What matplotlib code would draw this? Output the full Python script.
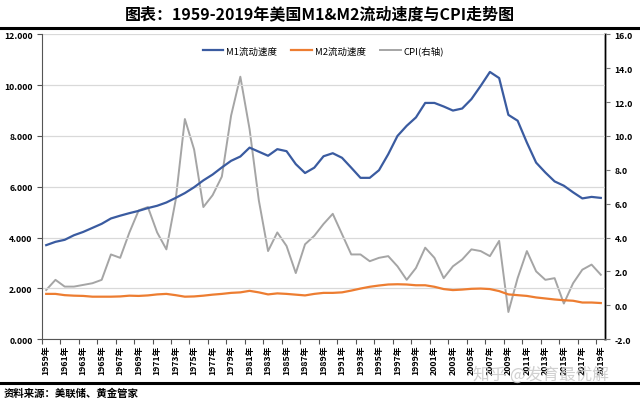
import matplotlib
matplotlib.use("Agg")
import matplotlib.pyplot as plt
from matplotlib.lines import Line2D
import numpy as np

plt.rcParams['font.family'] = ['Noto Sans CJK SC', 'DejaVu Sans']

years = list(range(1959, 2020))
m1_velocity = [3.70, 3.83, 3.91, 4.09, 4.22, 4.38, 4.54, 4.75, 4.86, 4.96,
               5.05, 5.16, 5.25, 5.38, 5.56, 5.75, 5.98, 6.25, 6.48, 6.76,
               7.02, 7.19, 7.54, 7.38, 7.22, 7.48, 7.40, 6.89, 6.54, 6.75,
               7.20, 7.32, 7.14, 6.75, 6.35, 6.35, 6.65, 7.28, 8.00, 8.40,
               8.73, 9.30, 9.30, 9.16, 9.00, 9.08, 9.45, 9.97, 10.52, 10.28,
               8.83, 8.60, 7.74, 6.95, 6.56, 6.21, 6.04, 5.78, 5.54, 5.60, 5.56]
m2_velocity = [1.78, 1.78, 1.73, 1.71, 1.70, 1.67, 1.67, 1.67, 1.68, 1.71,
               1.70, 1.72, 1.76, 1.78, 1.73, 1.67, 1.68, 1.71, 1.75, 1.78,
               1.82, 1.84, 1.90, 1.84, 1.76, 1.80, 1.78, 1.75, 1.72, 1.78,
               1.82, 1.82, 1.84, 1.91, 1.99, 2.06, 2.11, 2.15, 2.16, 2.15,
               2.12, 2.12, 2.06, 1.97, 1.93, 1.95, 1.98, 1.99, 1.97, 1.89,
               1.76, 1.73, 1.70, 1.64, 1.60, 1.56, 1.53, 1.51, 1.44, 1.44, 1.42]
cpi = [0.9, 1.5, 1.1, 1.1, 1.2, 1.3, 1.5, 3.0, 2.8, 4.3,
       5.6, 5.8, 4.3, 3.3, 6.2, 11.0, 9.2, 5.8, 6.5, 7.6,
       11.2, 13.5, 10.4, 6.2, 3.2, 4.3, 3.5, 1.9, 3.6, 4.1,
       4.8, 5.4, 4.2, 3.0, 3.0, 2.6, 2.8, 2.9, 2.3, 1.5,
       2.2, 3.4, 2.8, 1.6, 2.3, 2.7, 3.3, 3.2, 2.9, 3.8,
       -0.4, 1.6, 3.2, 2.0, 1.5, 1.6, 0.1, 1.3, 2.1, 2.4, 1.8]
x_labels = [f"{y}年" for y in years]

c_m1 = '#3A5BA0'
c_m2 = '#ED7D31'
c_cpi = '#A5A5A5'

fig = plt.figure(figsize=(6.4, 4.02), dpi=100)
fig.patch.set_facecolor('white')

ax = fig.add_axes([0.065, 0.154, 0.881, 0.758])
ax2 = ax.twinx()

x = np.arange(len(years))
ax.plot(x, m1_velocity, color=c_m1, lw=1.6, zorder=3)
ax.plot(x, m2_velocity, color=c_m2, lw=1.6, zorder=3)
ax2.plot(x, cpi, color=c_cpi, lw=1.4, zorder=2)

ax.set_zorder(2)
ax.patch.set_visible(False)
ax2.set_zorder(1)

ax.set_xlim(-0.5, len(years) - 0.5)
ax.set_ylim(0, 12)
ax2.set_ylim(-2, 16)
ax.set_yticks(np.arange(0, 12.1, 2))
ax.set_yticklabels([f"{v:.3f}" for v in np.arange(0, 12.1, 2)])
ax2.set_yticks(np.arange(-2, 16.1, 2))
ax2.set_yticklabels([f"{v:.1f}" for v in np.arange(-2, 16.1, 2)])

ax.set_xticks(x[::2])
ax.set_xticklabels(x_labels[::2], rotation=90)
ax.set_xticks(np.arange(-0.5, len(years), 2), minor=True)
ax.tick_params(axis='x', which='major', length=0, pad=4, labelsize=6.3)
ax.tick_params(axis='x', which='minor', length=3.5, width=0.8, color='#555555', direction='out')
for lab in ax.get_xticklabels():
    lab.set_fontweight('bold')

ax.tick_params(axis='y', length=3.5, width=0.8, color='#555555', labelsize=6.3, pad=3)
ax2.tick_params(axis='y', length=3.5, width=0.8, color='#777777', labelsize=6.3, pad=3)
for lab in ax.get_yticklabels() + ax2.get_yticklabels():
    lab.set_fontweight('bold')

ax.grid(axis='y', color='#D9D9D9', lw=0.9)
ax.set_axisbelow(True)
for a in (ax, ax2):
    a.spines['top'].set_visible(False)
ax.spines['left'].set_color('#555555')
ax.spines['bottom'].set_color('#555555')
ax2.spines['right'].set_color('#8C8C8C')
ax2.spines['right'].set_linewidth(1.8)
ax2.spines['left'].set_visible(False)
ax2.spines['bottom'].set_visible(False)

handles = [Line2D([], [], color=c_m1, lw=1.6),
           Line2D([], [], color=c_m2, lw=1.6),
           Line2D([], [], color=c_cpi, lw=1.4)]
ax.legend(handles, ['M1流动速度', 'M2流动速度', 'CPI(右轴)'], loc='upper center',
          bbox_to_anchor=(0.5, 0.99), ncol=3, frameon=False, fontsize=6.8,
          handlelength=2.2, columnspacing=1.5, handletextpad=0.3)

fig.text(0.5, 0.965, '图表：1959-2019年美国M1&M2流动速度与CPI走势图', ha='center', va='center',
         fontsize=11.5, fontweight='bold')
fig.add_artist(Line2D([0, 1], [0.928, 0.928], color='black', lw=2.2, transform=fig.transFigure))
fig.add_artist(Line2D([0, 1], [0.045, 0.045], color='black', lw=2.2, transform=fig.transFigure))
fig.text(0.005, 0.021, '资料来源：美联储、黄金管家', ha='left', va='center',
         fontsize=7.5, fontweight='bold')
fig.text(0.845, 0.068, '知乎 @发育最优解', ha='center', va='center', fontsize=12,
         color='#C8C8C8', alpha=0.85)

fig.savefig('out.png', dpi=100, facecolor='white')
